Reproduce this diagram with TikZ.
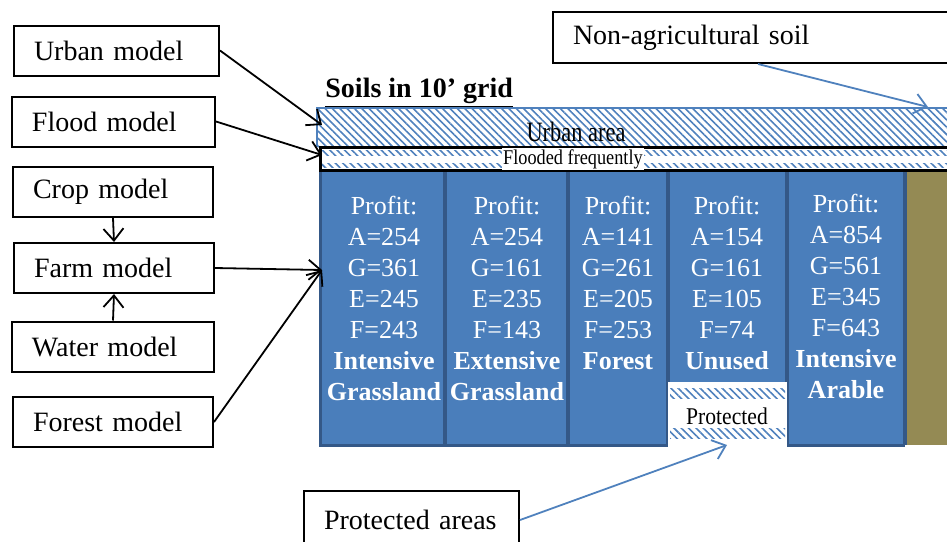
\documentclass[tikz,border=0pt]{standalone}
\usepackage{fontspec}
\setmainfont{Liberation Serif}
\usetikzlibrary{patterns.meta,arrows.meta}

\definecolor{cellblue}{RGB}{74,126,187}
\definecolor{celledge}{RGB}{52,88,135}
\definecolor{hatchblue}{RGB}{79,129,189}
\definecolor{soilolive}{RGB}{148,138,84}

\tikzset{
  modelbox/.style={draw, line width=1pt, anchor=west, minimum height=25pt, inner xsep=10pt, text width=80pt, align=left, font=\fontsize{14}{16}\selectfont},
  celltext/.style={anchor=north, inner sep=0pt, align=center, text=white, font=\fontsize{13}{15.5}\selectfont},
  hatch/.style={pattern={Lines[angle=-45,distance=2.6pt,line width=0.8pt]}, pattern color=hatchblue},
  link/.style={->, line width=0.9pt},
  bluelink/.style={->, line width=0.9pt, hatchblue},
}

\begin{document}
\begin{tikzpicture}[x=0.5pt, y=-0.5pt, >={Straight Barb[length=6pt,width=10pt]}]
\useasboundingbox (0,0) rectangle (947,541);

% models on the left
\node[modelbox, text width=82.5pt] (urbanm) at (13,50.5) {Urban model};
\node[modelbox, text width=81.5pt] (floodm) at (11,121.5) {Flood model};
\node[modelbox] (cropm) at (12,192) {Crop model};
\node[modelbox] (farmm) at (13,268) {Farm model};
\node[modelbox, text width=81pt] (waterm) at (11,346.5) {Water model};
\node[modelbox] (forestm) at (12,422) {Forest model};

% soil columns
\fill[cellblue] (320,170) rectangle (905,445);
\fill[soilolive] (905,170) rectangle (950,445);
\draw[celledge, line width=2pt] (445,170) -- (445,445);
\draw[celledge, line width=2pt] (568,170) -- (568,445);
\draw[celledge, line width=2pt] (668,170) -- (668,445);
\draw[celledge, line width=2pt] (787,170) -- (787,445);
\draw[celledge, line width=2pt] (905,170) -- (905,445);
\draw[celledge, line width=1.5pt] (320,170) -- (320,445) -- (905,445);

% protected part of the unused column
\fill[white] (668,382) rectangle (787,447);
\fill[hatch] (670,388) rectangle (785,398);
\fill[hatch] (670,428) rectangle (785,438);
\node[font=\fontsize{12}{13}\selectfont] (prot) at (727,416) {\scalebox{0.9}[1]{Protected}};

% urban and flooded bands
\fill[hatch] (317,108) rectangle (950,147);
\draw[hatchblue, line width=1pt] (317,147) -- (317,108) -- (950,108);
\fill[white] (320,147) rectangle (950,170);
\fill[hatch] (322,150) rectangle (950,155);
\fill[hatch] (322,163) rectangle (950,167);
\draw[line width=1.5pt] (320,147) rectangle (955,170);
\node[font=\fontsize{14}{15}\selectfont] (urbanlbl) at (576,132) {\scalebox{0.8}[1]{Urban area}};
\node[fill=white, inner sep=0.5pt, font=\fontsize{10.5}{11}\selectfont] (floodlbl) at (573,159) {\scalebox{0.87}[1]{Flooded frequently}};

\node[anchor=base west, inner sep=0pt, font=\fontsize{14}{16}\selectfont\bfseries] (title) at (325,97) {\underline{Soils in 10’ grid}};

% profits
\node[celltext] (colA) at (384,196) {Profit:\\A=254\\G=361\\E=245\\F=243\\\textbf{Intensive}\\\textbf{Grassland}};
\node[celltext] (colB) at (507,196) {Profit:\\A=254\\G=161\\E=235\\F=143\\\textbf{Extensive}\\\textbf{Grassland}};
\node[celltext] (colC) at (618,196) {Profit:\\A=141\\G=261\\E=205\\F=253\\\textbf{Forest}};
\node[celltext] (colD) at (727,196) {Profit:\\A=154\\G=161\\E=105\\F=74\\\textbf{Unused}};
\node[celltext] (colE) at (846,194) {Profit:\\A=854\\G=561\\E=345\\F=643\\\textbf{Intensive}\\\textbf{Arable}};

% other boxes
\node[modelbox, text width=180pt, minimum height=25.5pt] (nonagri) at (552,37.5) {Non-agricultural soil};
\node[modelbox, text width=87.5pt, minimum height=29pt] (protm) at (303,520) {Protected areas};

% arrows
\coordinate (urbanin) at (322,125);
\coordinate (floodin) at (322,155);
\coordinate (gridin) at (322,270);
\coordinate (nonagriin) at (928,107);
\coordinate (protin) at (727,445);

\draw[link] (urbanm.east) -- (urbanin);
\draw[link] (floodm.east) -- (floodin);
\draw[link] (cropm.south) -- (farmm.north);
\draw[link] (waterm.north) -- (farmm.south);
\draw[link] (farmm.east) -- (gridin);
\draw[link] (forestm.east) -- (gridin);
\draw[bluelink] ([xshift=2.5pt]nonagri.south) -- (nonagriin);
\draw[bluelink] (protm.east) -- (protin);

\end{tikzpicture}
\end{document}
